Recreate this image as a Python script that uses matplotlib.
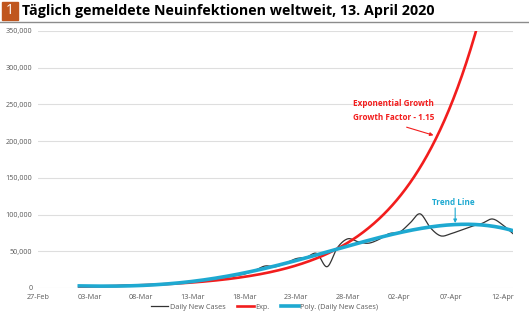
import matplotlib
matplotlib.use("Agg")
from matplotlib import pyplot
import matplotlib.dates as mdates
from matplotlib.patches import Rectangle
from matplotlib.lines import Line2D
import numpy
import pandas

# daily new cases, 2 March - 13 April 2020
dates = pandas.date_range("2020-03-02", "2020-04-13", freq="D")
daily_new_cases = [
    1800, 2200, 2500, 2800, 3600, 4000, 3900, 4600, 5000, 6500,
    7500, 9500, 10800, 12500, 14000, 16500, 19000, 24000, 30000, 29000,
    34000, 40000, 42000, 47000, 29000, 55000, 67000, 63000, 61000, 66000,
    74000, 76000, 88000, 101000, 82000, 71000, 74000, 79000, 84000, 88000,
    94000, 86000, 74000,
]
exp_start = 1630
growth_factor = 1.15
poly_order = 4

x_ticks = pandas.date_range("2020-02-27", "2020-04-12", freq="5D")
y_ticks = [0, 50000, 100000, 150000, 200000, 250000, 300000, 350000]

RED = "#f21d1d"
BLUE = "#1ea9d1"
GREY = "#595959"
FONT = "Open Sans"


def smooth(x, y, n=12):
    """Catmull-Rom curve through the points, like Excel's smoothed line."""
    pts = numpy.column_stack([x, y])
    padded = numpy.vstack([2 * pts[0] - pts[1], pts, 2 * pts[-1] - pts[-2]])
    t = numpy.linspace(0, 1, n, endpoint=False)[:, None]
    out = []
    for i in range(1, len(padded) - 2):
        p0, p1, p2, p3 = padded[i - 1:i + 3]
        seg = 0.5 * (2 * p1 + (-p0 + p2) * t
                     + (2 * p0 - 5 * p1 + 4 * p2 - p3) * t ** 2
                     + (-p0 + 3 * p1 - 3 * p2 + p3) * t ** 3)
        out.append(seg)
    out.append(padded[-2][None, :])
    res = numpy.vstack(out)
    return res[:, 0], res[:, 1]


def day(s, offset=0.0):
    return mdates.date2num(pandas.Timestamp(s)) + offset


x = mdates.date2num(dates)
y = numpy.array(daily_new_cases, dtype=float)
days = x - x[0]

# trend lines
fine = numpy.linspace(x[0], x[-1], 400)
exp_curve = exp_start * growth_factor ** (fine - x[0])
coef = numpy.polyfit(days, y, poly_order)
poly_curve = numpy.polyval(coef, fine - x[0])

fig = pyplot.figure(figsize=(5.29, 3.23), dpi=100)
ax = fig.add_axes([38 / 529, 1 - 288 / 323, (513 - 38) / 529, (288 - 31) / 323])

sx, sy = smooth(x, y)
ax.plot(sx, sy, color="#333333", lw=0.9, label="Daily New Cases", zorder=3)
ax.plot(fine, exp_curve, color=RED, lw=1.9, label="Exp.", zorder=4)
ax.plot(fine, poly_curve, color=BLUE, lw=2.6, label="Poly. (Daily New Cases)", zorder=5)

ax.set_xlim(day("2020-02-27"), x[-1])
ax.set_ylim(0, 350000)
ax.set_xticks(mdates.date2num(x_ticks))
ax.xaxis.set_major_formatter(mdates.DateFormatter("%d-%b"))
ax.set_yticks(y_ticks)
ax.set_yticklabels(["{:,}".format(v) for v in y_ticks])
ax.tick_params(length=0, labelsize=5.2, labelcolor=GREY, pad=4)
for lab in ax.get_xticklabels() + ax.get_yticklabels():
    lab.set_fontfamily(FONT)
ax.grid(axis="y", color="#dedede", lw=0.8)
ax.set_axisbelow(True)
for s in ax.spines.values():
    s.set_visible(False)

# annotations
ax.text(day("2020-04-01", 0.4), 242000, "Exponential Growth\nGrowth Factor - 1.15",
        ha="center", va="center", color=RED, fontsize=5.9, fontweight="bold",
        family=FONT, linespacing=1.7)
ax.annotate("", xy=(day("2020-04-05", 0.3), 208000),
            xytext=(day("2020-04-02", 0.7), 219000),
            arrowprops=dict(arrowstyle="-|>", color=RED, lw=0.8,
                            shrinkA=0, shrinkB=0, mutation_scale=5))
ax.text(day("2020-04-07", 0.2), 116000, "Trend Line",
        ha="center", va="center", color=BLUE, fontsize=5.9, fontweight="bold",
        family=FONT)
ax.annotate("", xy=(day("2020-04-07", 0.4), 88500),
            xytext=(day("2020-04-07", 0.4), 109000),
            arrowprops=dict(arrowstyle="-|>", color=BLUE, lw=0.8,
                            shrinkA=0, shrinkB=0, mutation_scale=5))

leg = fig.legend(loc="center", bbox_to_anchor=(0.5, 1 - 307 / 323), ncol=3,
                 frameon=False, handlelength=2.4,
                 columnspacing=1.6, handletextpad=0.2,
                 prop={"family": FONT, "size": 5.2})
for t in leg.get_texts():
    t.set_color(GREY)

# heading
fig.patches.append(Rectangle((2 / 529, 1 - 20 / 323), 16 / 529, 18 / 323,
                             transform=fig.transFigure, color="#c0561e"))
fig.text(10 / 529, 1 - 11 / 323, "1", color="white", fontsize=10,
         family=FONT, ha="center", va="center")
fig.text(22 / 529, 1 - 11 / 323,
         "Täglich gemeldete Neuinfektionen weltweit, 13. April 2020",
         fontsize=10.3, fontweight="bold", family=FONT, va="center")
fig.lines.append(Line2D([0, 1], [1 - 21.5 / 323] * 2, transform=fig.transFigure,
                        color="#8c8c8c", lw=1))

fig.savefig("out.png", dpi=100)
